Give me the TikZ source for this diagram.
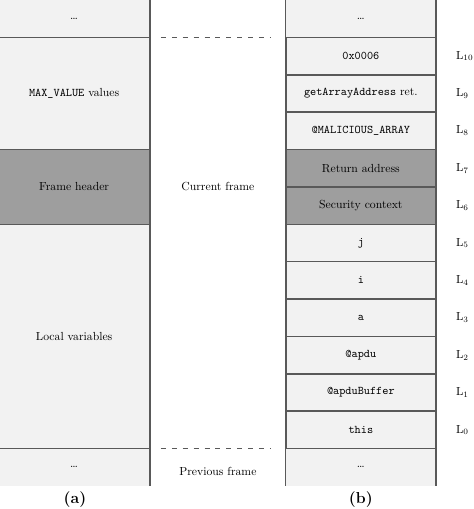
\documentclass[tikz,border=0pt]{standalone}

\tikzset{
  cell/.style={draw=black!65, line width=1.3pt, fill=black!5, minimum width=4.5cm, minimum height=1.122cm, inner sep=0pt},
  opencell/.style={fill=black!5, minimum width=4.5cm, minimum height=1.122cm, inner sep=0pt},
  dark/.style={fill=black!38},
  tall/.style={minimum height=#1*1.122cm},
  side/.style={draw=black!65, line width=1.3pt},
  frameline/.style={draw=black!65, line width=1pt, dash pattern=on 4.3pt off 5pt},
  lbl/.style={anchor=west, inner sep=0pt},
  caption/.style={font=\fontsize{13.5}{16}\selectfont\bfseries}
}

\begin{document}
\begin{tikzpicture}[x=1cm, y=1.122cm]
\useasboundingbox (0,-0.615) rectangle (14.22,13);

% column (a)
\node[opencell, minimum width=4.55cm] (a0) at (2.225,0.5) {\dots};
\node[cell, minimum width=4.55cm, tall=6] (a1) at (2.225,4) {Local variables};
\node[cell, dark, minimum width=4.55cm, tall=2] (a7) at (2.225,8) {Frame header};
\node[cell, minimum width=4.55cm, tall=3] (a9) at (2.225,10.5) {\texttt{MAX\_VALUE} values};
\node[opencell, minimum width=4.55cm] (a12) at (2.225,12.5) {\dots};
\draw[side] (a0.north east) -- (a0.south east);
\draw[side] (a12.north east) -- (a12.south east);

% frames
\draw[frameline] (4.83,12) -- (8.1,12);
\draw[frameline] (4.83,1) -- (8.1,1);
\node (cur) at (6.54,8) {Current frame};
\node (prev) at (6.54,0.38) {Previous frame};

% column (b)
\node[opencell] (b0) at (10.83,0.5) {\dots};
\foreach \r/\txt in {1/\texttt{this}, 2/\texttt{@apduBuffer}, 3/\texttt{@apdu}, 4/\texttt{a}, 5/\texttt{i}, 6/\texttt{j}, 9/\texttt{@MALICIOUS\_ARRAY}, 10/\texttt{getArrayAddress} ret., 11/\texttt{0x0006}} {
    \node[cell] (b\r) at (10.83,\r+0.5) {\txt};
}
\node[cell, dark] (b7) at (10.83,7.5) {Security context};
\node[cell, dark] (b8) at (10.83,8.5) {Return address};
\node[opencell] (b12) at (10.83,12.5) {\dots};
\draw[side] (b0.north west) -- (b0.south west) (b0.north east) -- (b0.south east);
\draw[side] (b12.north west) -- (b12.south west) (b12.north east) -- (b12.south east);

\foreach \k in {0,...,10} {
    \node[lbl] (l\k) at (13.68,\k+1.5) {L$_{\k}$};
}

\node[caption] (capa) at (2.25,-0.37) {(a)};
\node[caption] (capb) at (10.83,-0.37) {(b)};
\end{tikzpicture}
\end{document}
